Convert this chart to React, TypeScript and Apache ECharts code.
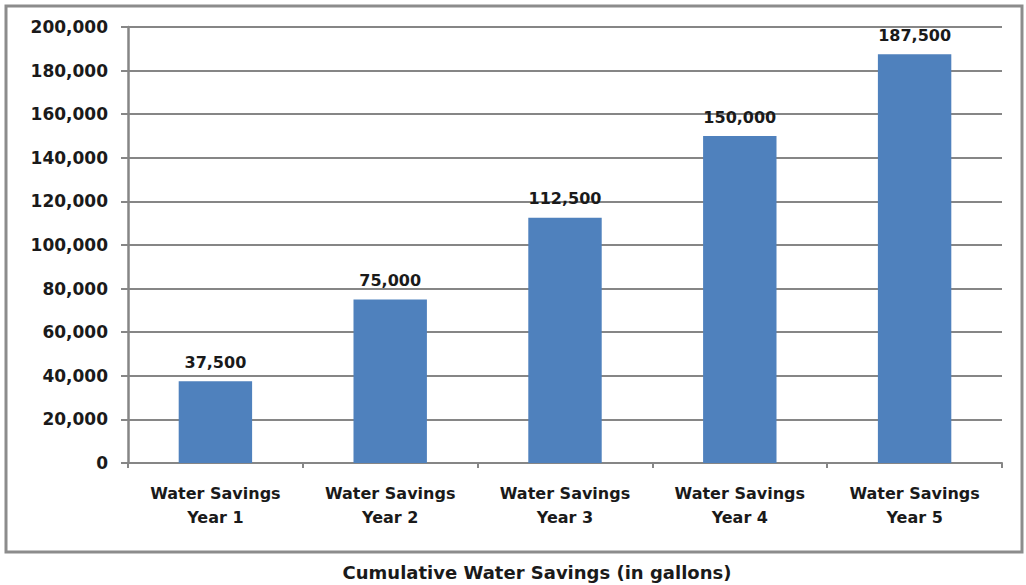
import React, { useEffect, useRef } from "react";
import * as echarts from "echarts";

const categories = [
  "Water Savings\nYear 1",
  "Water Savings\nYear 2",
  "Water Savings\nYear 3",
  "Water Savings\nYear 4",
  "Water Savings\nYear 5",
];
const values = [37500, 75000, 112500, 150000, 187500];
const yMax = 200000;
const yInterval = 20000;
const titleText = "Cumulative Water Savings (in gallons)";

const FONT = "'DejaVu Sans', 'Open Sans', sans-serif";

export default function App() {
  const ref = useRef<HTMLDivElement>(null);
  useEffect(() => {
    const chart = echarts.init(ref.current!, null, { renderer: "svg" });
    chart.setOption({
      animation: false,
      backgroundColor: "#ffffff",
      graphic: [
        {
          type: "rect",
          shape: { x: 6, y: 6, width: 1016, height: 546 },
          style: { fill: "none", stroke: "#8c8c8c", lineWidth: 3 },
          z: 0,
        },
        {
          type: "text",
          x: 537,
          y: 572,
          style: {
            text: titleText,
            font: `bold 18px ${FONT}`,
            fill: "#1a1a1a",
            align: "center",
            verticalAlign: "middle",
          },
        },
      ],
      grid: { left: 128, right: 24, top: 27, bottom: 122 },
      xAxis: {
        type: "category",
        data: categories,
        axisLine: { lineStyle: { color: "#868686", width: 2 } },
        axisTick: { show: true, length: 5, lineStyle: { color: "#868686", width: 2 } },
        axisLabel: {
          color: "#1a1a1a",
          fontFamily: FONT,
          fontWeight: "bold",
          fontSize: 16,
          lineHeight: 24,
          margin: 18,
        },
      },
      yAxis: {
        type: "value",
        min: 0,
        max: yMax,
        interval: yInterval,
        axisLine: { show: true, lineStyle: { color: "#868686", width: 2.5 } },
        axisTick: { show: true, length: 7, lineStyle: { color: "#868686", width: 2 } },
        splitLine: { lineStyle: { color: "#868686", width: 1.8 } },
        axisLabel: {
          color: "#1a1a1a",
          fontFamily: FONT,
          fontWeight: "bold",
          fontSize: 17,
          margin: 20,
          formatter: (v: number) => v.toLocaleString("en-US"),
        },
      },
      series: [
        {
          type: "bar",
          data: values,
          barWidth: "42%",
          itemStyle: { color: "#4F81BD" },
          label: {
            show: true,
            position: "top",
            distance: 11,
            color: "#1a1a1a",
            fontFamily: FONT,
            fontWeight: "bold",
            fontSize: 16,
            formatter: (p: any) => Number(p.value).toLocaleString("en-US"),
          },
        },
      ],
    });
    return () => chart.dispose();
  }, []);
  return (
    <div
      ref={ref}
      style={{ position: "fixed", left: 0, top: 0, width: 1026, height: 585 }}
    />
  );
}
